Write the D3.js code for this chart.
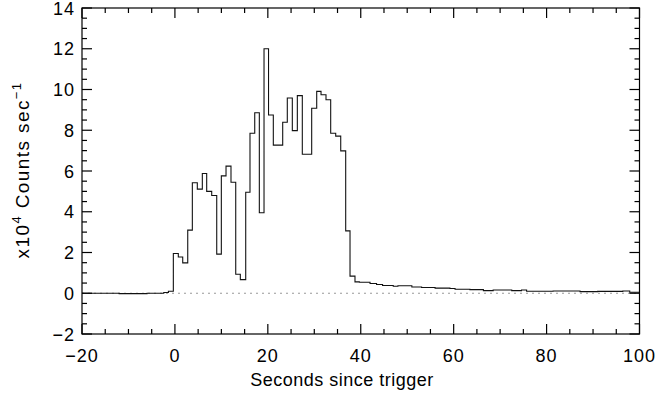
<!DOCTYPE html>
<html>
<head>
<meta charset="utf-8">
<script src="https://cdn.jsdelivr.net/npm/d3@7"></script>
<style>
  html, body { margin: 0; padding: 0; background: #fff; }
  svg { display: block; }
  text { font-family: "Liberation Sans", Arial, Helvetica, sans-serif; fill: #000; }
</style>
</head>
<body>
<svg id="chart" width="658" height="396"></svg>
<script>
// light curve: left edge of each step (s since trigger) and rate (x10^4 counts/s)
const stepTimes = [
  -20, -12, -6, -2.4, -1.4,
  -0.34, 0.73, 1.68, 2.76, 3.75, 4.82, 5.90, 6.84, 7.92, 9.0,
  9.99, 11.0, 12.07, 13.09, 14.08, 15.24, 16.16, 17.18, 18.17, 19.18,
  20.15, 21.18, 23.2, 24.19, 25.27, 26.35, 27.42, 29.44, 30.52, 31.45,
  32.52, 33.53, 34.61, 35.69, 36.76, 37.69, 38.76,
  39.7, 42, 43.4, 44.7, 47, 48, 51, 53.1, 56, 59.2, 60.3, 63.5,
  66.4, 68.5, 72.5, 74.6, 75.7, 81.4, 87.2, 91, 96.4, 97.9
];
const stepRates = [
  0, -0.02, 0, 0.04, 0.1,
  1.95, 1.78, 1.49, 3.10, 5.42, 5.11, 5.88, 5.0, 4.80, 1.92,
  5.76, 6.24, 5.45, 0.93, 0.67, 4.96, 7.85, 8.86, 3.95, 12.0,
  8.75, 7.27, 8.39, 9.58, 7.98, 9.70, 6.82, 9.08, 9.91, 9.74,
  9.50, 7.85, 7.71, 6.99, 3.06, 0.84, 0.56,
  0.54, 0.48, 0.43, 0.38, 0.34, 0.37, 0.31, 0.28, 0.25, 0.23, 0.2, 0.18,
  0.13, 0.16, 0.13, 0.16, 0.1, 0.11, 0.08, 0.09, 0.11, 0.05
];

const xDomain = [-20, 100];
const yDomain = [-2, 14];
const xMajor = [-20, 0, 20, 40, 60, 80, 100];
const yMajor = [-2, 0, 2, 4, 6, 8, 10, 12, 14];
const xTitle = "Seconds since trigger";

(function () {
  const svg = d3.select("#chart");
  const pL = 82, pR = 639.5, pT = 8, pB = 334;

  const x = d3.scaleLinear().domain(xDomain).range([pL, pR]);
  const y = d3.scaleLinear().domain(yDomain).range([pB, pT]);

  // zero reference line
  svg.append("line")
    .attr("x1", x(xDomain[0])).attr("x2", x(xDomain[1]))
    .attr("y1", y(0)).attr("y2", y(0))
    .attr("stroke", "#999").attr("stroke-width", 1.2)
    .attr("stroke-dasharray", "2,4");

  // step curve
  const pts = stepTimes.map((t, i) => [t, stepRates[i]]);
  pts.push([xDomain[1], stepRates[stepRates.length - 1]]);

  svg.append("clipPath").attr("id", "clip")
    .append("rect").attr("x", pL).attr("y", pT)
    .attr("width", pR - pL).attr("height", pB - pT);

  svg.append("path")
    .datum(pts)
    .attr("clip-path", "url(#clip)")
    .attr("fill", "none")
    .attr("stroke", "#111")
    .attr("stroke-width", 1.1)
    .attr("d", d3.line().x(d => x(d[0])).y(d => y(d[1])).curve(d3.curveStepAfter));

  // frame
  svg.append("rect")
    .attr("x", pL).attr("y", pT)
    .attr("width", pR - pL).attr("height", pB - pT)
    .attr("fill", "none").attr("stroke", "#000").attr("stroke-width", 1.2);

  // ticks on all four sides, pointing inward
  const xMinor = d3.range(xDomain[0], xDomain[1] + 0.01, 5).filter(v => !xMajor.includes(v));
  const yMinor = d3.range(yDomain[0], yDomain[1] + 0.01, 0.5).filter(v => !yMajor.includes(v));
  const ticks = svg.append("g").attr("stroke", "#000").attr("stroke-width", 1.2);

  function xTicks(vals, len) {
    vals.forEach(v => {
      ticks.append("line").attr("x1", x(v)).attr("x2", x(v)).attr("y1", pB).attr("y2", pB - len);
      ticks.append("line").attr("x1", x(v)).attr("x2", x(v)).attr("y1", pT).attr("y2", pT + len);
    });
  }
  function yTicks(vals, len) {
    vals.forEach(v => {
      ticks.append("line").attr("y1", y(v)).attr("y2", y(v)).attr("x1", pL).attr("x2", pL + len);
      ticks.append("line").attr("y1", y(v)).attr("y2", y(v)).attr("x1", pR).attr("x2", pR - len);
    });
  }
  xTicks(xMajor, 10); xTicks(xMinor, 5);
  yTicks(yMajor, 10); yTicks(yMinor, 5);

  const fmt = d3.format("d");

  svg.append("g").selectAll("text").data(xMajor).join("text")
    .attr("x", d => x(d)).attr("y", 362)
    .attr("text-anchor", "middle")
    .attr("font-size", 18).attr("letter-spacing", 1)
    .text(d => fmt(d));

  svg.append("g").selectAll("text").data(yMajor).join("text")
    .attr("x", 75).attr("y", d => y(d) + 6.5)
    .attr("text-anchor", "end")
    .attr("font-size", 18).attr("letter-spacing", 1)
    .text(d => fmt(d));

  svg.append("text")
    .attr("x", 342).attr("y", 386)
    .attr("text-anchor", "middle")
    .attr("font-size", 18).attr("letter-spacing", 0.5)
    .text(xTitle);

  // y title with superscripts
  const yt = svg.append("text")
    .attr("transform", "translate(29,170) rotate(-90)")
    .attr("text-anchor", "middle")
    .attr("font-size", 19).attr("letter-spacing", 1.4);
  yt.append("tspan").text("x10");
  yt.append("tspan").attr("dy", -8).attr("font-size", 13).text("4");
  yt.append("tspan").attr("dy", 8).text(" Counts sec");
  yt.append("tspan").attr("dy", -8).attr("font-size", 13).text("−1");
})();
</script>
</body>
</html>
